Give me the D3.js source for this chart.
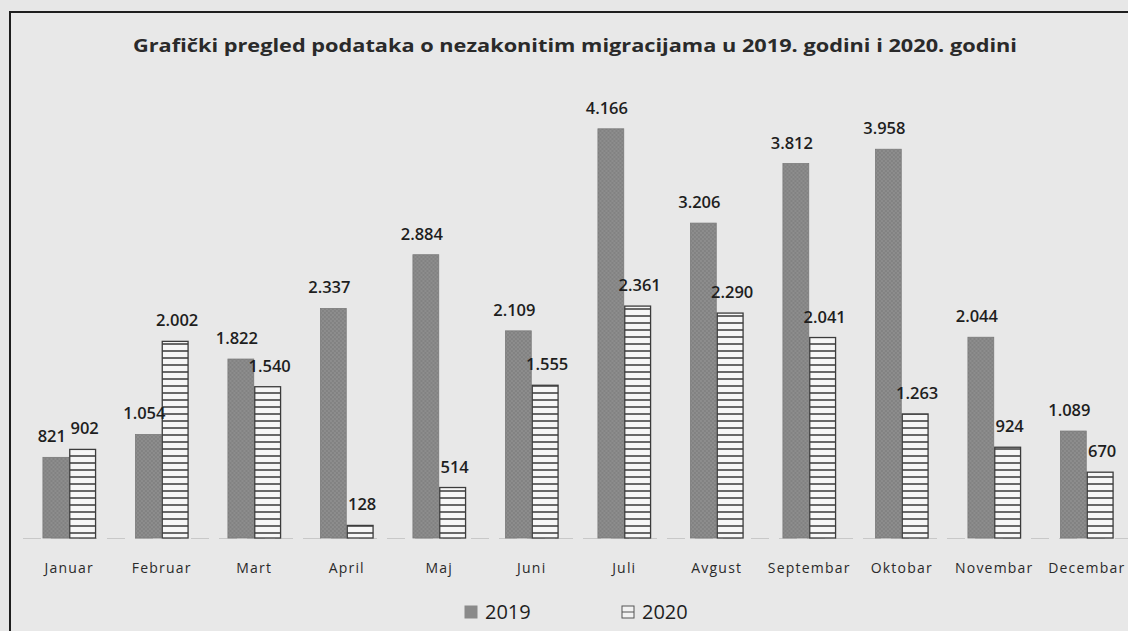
<!DOCTYPE html>
<html>
<head>
<meta charset="utf-8">
<script src="https://cdn.jsdelivr.net/npm/d3@7"></script>
<style>
  html, body { margin: 0; padding: 0; background: #e7e7e7; }
  svg { display: block; }
</style>
</head>
<body>
<div id="chart"></div>
<script>
const months = ['Januar', 'Februar', 'Mart', 'April', 'Maj', 'Juni', 'Juli', 'Avgust', 'Septembar', 'Oktobar', 'Novembar', 'Decembar']
const series = ['2019', '2020']
const values2019 = [821, 1054, 1822, 2337, 2884, 2109, 4166, 3206, 3812, 3958, 2044, 1089]
const values2020 = [902, 2002, 1540, 128, 514, 1555, 2361, 2290, 2041, 1263, 924, 670]
const title = 'Grafički pregled podataka o nezakonitim migracijama u 2019. godini i 2020. godini'

const width = 1128, height = 631
const baseY = 538

const svg = d3.select('#chart').append('svg')
  .attr('width', width)
  .attr('height', height)
  .style('font-family', 'Open Sans, sans-serif')

const defs = svg.append('defs')
// horizontal stripes for the 2020 bars
const pat = defs.append('pattern')
  .attr('id', 'stripes')
  .attr('patternUnits', 'userSpaceOnUse')
  .attr('width', 8).attr('height', 7)
pat.append('rect').attr('width', 8).attr('height', 7).attr('fill', '#f6f6f6')
pat.append('line').attr('x1', 0).attr('x2', 8).attr('y1', 1).attr('y2', 1)
  .attr('stroke', '#444').attr('stroke-width', 1.6)

// grainy fill for the 2019 bars
const pat2 = defs.append('pattern')
  .attr('id', 'grain')
  .attr('patternUnits', 'userSpaceOnUse')
  .attr('width', 4).attr('height', 4)
pat2.append('rect').attr('width', 4).attr('height', 4).attr('fill', '#8d8d8d')
pat2.append('rect').attr('width', 2).attr('height', 2).attr('fill', '#828282')
pat2.append('rect').attr('x', 2).attr('y', 2).attr('width', 2).attr('height', 2).attr('fill', '#828282')

// frame
svg.append('rect')
  .attr('x', 10).attr('y', 12)
  .attr('width', 1140).attr('height', 650)
  .attr('fill', '#e8e8e8')
  .attr('stroke', '#1e1e1e')
  .attr('stroke-width', 2)

svg.append('text')
  .attr('x', 575).attr('y', 52)
  .attr('text-anchor', 'middle')
  .attr('font-size', 17)
  .attr('font-weight', 'bold')
  .attr('fill', '#2a2a2a')
  .attr('textLength', 884)
  .attr('lengthAdjust', 'spacingAndGlyphs')
  .text(title)

const x0 = d3.scaleBand().domain(months).range([23, 1133]).paddingInner(0.42).paddingOuter(0.21)
const x1 = d3.scaleBand().domain(series).range([0, x0.bandwidth()])
const y = d3.scaleLinear().domain([0, 4500]).range([baseY, baseY - 442])

const rows = months.map((m, i) => ({ month: m, vals: [values2019[i], values2020[i]] }))

// faint baseline
svg.append('line')
  .attr('x1', 23).attr('x2', 1128)
  .attr('y1', baseY + 0.5).attr('y2', baseY + 0.5)
  .attr('stroke', '#c8c8c8')
  .attr('stroke-dasharray', '18,10')

const groups = svg.selectAll('g.month')
  .data(rows)
  .enter()
  .append('g')
  .attr('class', 'month')
  .attr('transform', d => 'translate(' + x0(d.month) + ',0)')

groups.selectAll('rect')
  .data(d => d.vals.map((v, k) => ({ key: series[k], v: v })))
  .enter()
  .append('rect')
  .attr('x', d => x1(d.key) + 0.5)
  .attr('y', d => y(d.v))
  .attr('width', x1.bandwidth() - 1)
  .attr('height', d => baseY - y(d.v))
  .attr('fill', d => d.key === '2019' ? 'url(#grain)' : 'url(#stripes)')
  .attr('stroke', d => d.key === '2019' ? '#7a7a7a' : '#3c3c3c')
  .attr('stroke-width', d => d.key === '2019' ? 0.8 : 1.3)

const fmt = v => d3.format(',')(v).replace(',', '.')

// labels pushed slightly apart so neighbours don't collide
groups.selectAll('text.val')
  .data(d => d.vals.map((v, k) => ({ key: series[k], v: v })))
  .enter()
  .append('text')
  .attr('class', 'val')
  .attr('x', d => x1(d.key) + x1.bandwidth() / 2 + (d.key === '2019' ? -4 : 2))
  .attr('y', d => y(d.v) - 15)
  .attr('text-anchor', 'middle')
  .attr('font-size', 16.5)
  .attr('font-weight', 600)
  .attr('fill', '#1e1e1e')
  .text(d => fmt(d.v))

// month labels
const xAxis = svg.append('g')
  .attr('transform', 'translate(0,' + baseY + ')')
  .call(d3.axisBottom(x0).tickSize(0).tickPadding(25))
xAxis.select('.domain').remove()
xAxis.selectAll('text')
  .attr('font-size', 14)
  .attr('letter-spacing', 1.2)
  .attr('font-family', 'Open Sans, sans-serif')
  .attr('fill', '#2a2a2a')

// legend
const legend = svg.append('g').attr('transform', 'translate(465,606)')
series.forEach((s, i) => {
  const g = legend.append('g').attr('transform', 'translate(' + (i * 157) + ',0)')
  g.append('rect')
    .attr('width', 12).attr('height', 12)
    .attr('fill', i === 0 ? '#8a8a8a' : '#f2f2f2')
    .attr('stroke', i === 0 ? '#8a8a8a' : '#555')
    .attr('stroke-width', 1)
  if (i === 1) {
    g.append('line').attr('x1', 0).attr('x2', 12).attr('y1', 6).attr('y2', 6).attr('stroke', '#555')
  }
  g.append('text')
    .attr('x', 20).attr('y', 13)
    .attr('font-size', 20)
    .attr('fill', '#1e1e1e')
    .text(s)
})
</script>
</body>
</html>
